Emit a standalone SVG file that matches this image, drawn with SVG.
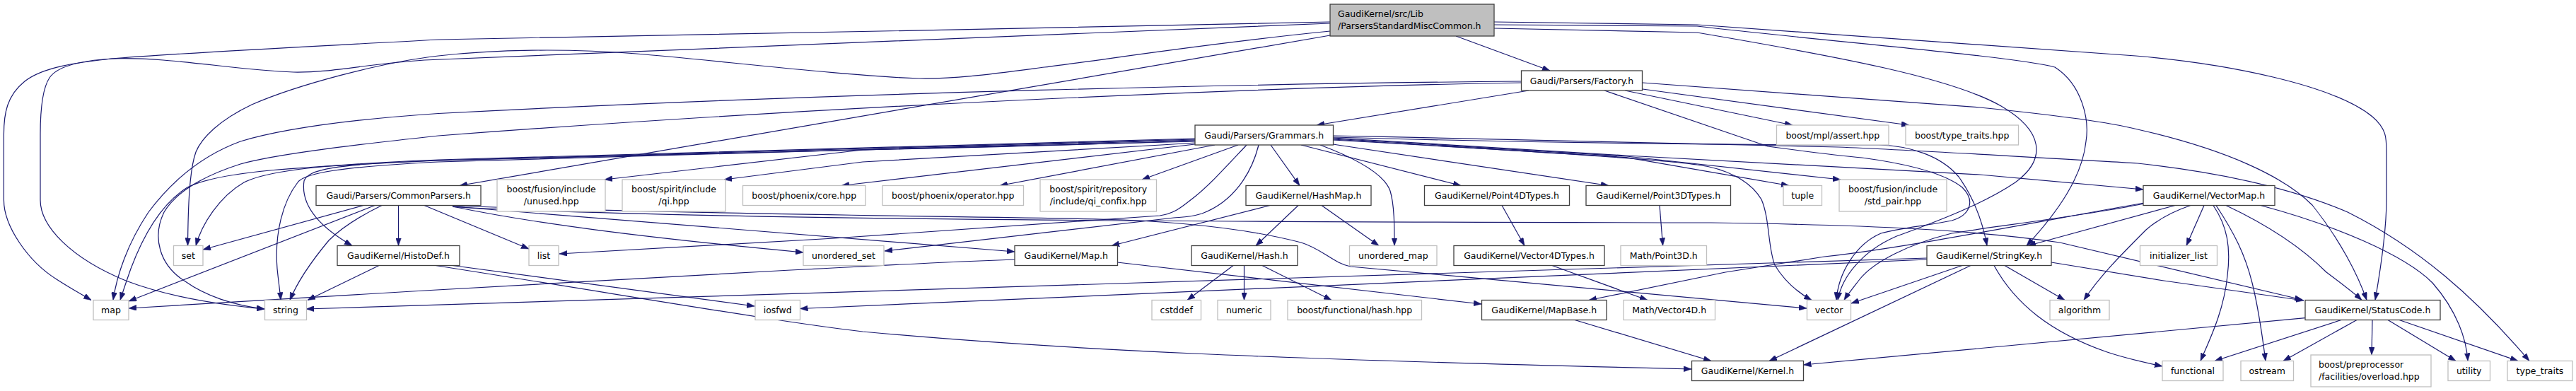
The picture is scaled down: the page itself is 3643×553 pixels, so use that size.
<svg xmlns="http://www.w3.org/2000/svg" width="3643" height="553" viewBox="0 0 3643 553">
<style>
.e{fill:none;stroke:#191970;stroke-width:1.2;marker-end:url(#a)}
.doc rect{fill:#fff;stroke:#404040;stroke-width:1.3}
.ext rect{fill:#fff;stroke:#bfbfbf;stroke-width:1.3}
.root rect{fill:#bfbfbf;stroke:#404040;stroke-width:1.3}
text{font-family:"DejaVu Sans","Liberation Sans",sans-serif;font-size:12.5px;fill:#000}
.c{text-anchor:middle}
</style>
<defs>
<marker id="a" viewBox="0 0 11 8" refX="11" refY="4" markerWidth="11" markerHeight="8" markerUnits="userSpaceOnUse" orient="auto"><path d="M0,0L11,4L0,8z" fill="#191970" stroke="#191970" stroke-width="0.5"/></marker>
</defs>
<rect width="3643" height="553" fill="#fff"/>
<g id="edges">
<path class="e" d="M2059,51L2192,100"/>
<path class="e" d="M1881,50L650,262.5"/>
<path class="e" d="M1881,31C1500,40 900,50 620,56C400,68 250,75 158,83C110,88 60,95 35,115C10,135 5.4,160 5.4,190L5.4,283C5.4,320 40,370 80,395C100,408 115,416 129,424.5"/>
<path class="e" d="M1881,33L600,85C520,90 470,103 415,102C330,99 240,80 158,83C110,86 80,95 70,110C60,125 57,160 57,190L57,283C57,320 100,365 178,397C230,417 300,430 374,437"/>
<path class="e" d="M1881,44C1700,62 1560,85 1477,95C1400,105 1350,112 1300,111C1200,108 1000,84 900,76C800,68 700,70 620,79C540,88 420,120 356,148C310,170 285,195 277,215C268,240 266,290 265.5,347.5"/>
<path class="e" d="M2113,31C2200,33 2300,34 2400,35L3020,79C3150,90 3300,120 3355,165C3375,182 3375,195 3375,215L3375,282C3375,330 3365,390 3359,424.5"/>
<path class="e" d="M2113,35L2400,37C2600,60 2850,80 2906,95C2945,120 2955,170 2950,200C2945,250 2910,300 2866,347.5"/>
<path class="e" d="M2113,40L2400,46C2600,80 2760,110 2830,150C2890,185 2895,225 2850,258C2800,292 2720,320 2680,335C2635,355 2605,390 2599,424.5"/>
<path class="e" d="M2162,128L1862,177"/>
<path class="e" d="M2298,128L2535,177"/>
<path class="e" d="M2323,126L2700,177"/>
<path class="e" d="M2323,117L2800,152C2900,162 2980,172 3023,183C3150,212 3230,250 3270,290C3310,340 3335,390 3347,424.5"/>
<path class="e" d="M2151.5,115C1800,118 1200,130 620,160.5C480,170 390,185 340,200C280,222 240,260 210,300C180,345 165,390 160,424.5"/>
<path class="e" d="M2151.5,117C1800,123 1200,148 620,192C500,205 390,218 340,232C290,248 250,270 232,300C215,335 225,375 262,398C290,418 330,432 374,437"/>
<path class="e" d="M2269,128L2500,207C2560,215 2600,220 2633,223C2700,232 2750,245 2775,265C2795,285 2785,305 2760,312C2720,320 2690,322 2660,330C2625,345 2600,385 2597,424.5"/>
<path class="e" d="M1690,199C1500,206 1300,210 1220,212L855,254"/>
<path class="e" d="M1690,202C1500,214 1300,225 1220,229L1024,254"/>
<path class="e" d="M1690,204L1190,262.5"/>
<path class="e" d="M1718,205L1414,262.5"/>
<path class="e" d="M1751,205L1615,254"/>
<path class="e" d="M1763,205C1730,240 1710,262 1690,278C1672,292 1662,302 1640,305L1180,337L791,359"/>
<path class="e" d="M1780,205C1770,245 1745,285 1700,302C1680,308 1670,307 1660,308L1251,355"/>
<path class="e" d="M1797,205L1838,262.5"/>
<path class="e" d="M1690,196L620,226C470,232 380,240 345,258C310,278 285,318 277,347.5"/>
<path class="e" d="M1690,197L620,227C420,236 310,242 265,265C225,290 200,340 185,380C178,400 173,415 170,424.5"/>
<path class="e" d="M1690,198L620,229C480,236 430,245 421,258C400,285 388,330 392,380C394,400 396,412 397,424.5"/>
<path class="e" d="M1690,200L620,227C470,232 435,240 430,256C425,290 450,320 498,347.5"/>
<path class="e" d="M1840,205L2066,262.5"/>
<path class="e" d="M1885,204L2275,262.5"/>
<path class="e" d="M1867,205C1920,225 1958,247 1966,270C1972,290 1972,320 1972,347.5"/>
<path class="e" d="M1885,192C2100,196 2300,202 2600,208C2700,212 2800,218 3023,231C3150,245 3250,270 3320,300C3420,350 3500,420 3577,510.5"/>
<path class="e" d="M1885,195C2100,208 2250,217 2300,220L2800,247L3031,268"/>
<path class="e" d="M1885,197C2100,210 2250,220 2300,222.7L2530,262.5"/>
<path class="e" d="M1885,196C2100,209 2250,218 2300,221L2603,254"/>
<path class="e" d="M1885,198C2100,210 2350,225 2400,233C2440,238 2475,255 2491,282C2503,310 2500,350 2510,375C2525,400 2545,415 2562,424.5"/>
<path class="e" d="M1885,194C2100,200 2400,205 2657,205C2700,206 2745,220 2770,250C2795,285 2805,320 2810,347.5"/>
<path class="e" d="M1796,290.5L1572,347.5"/>
<path class="e" d="M1836,290.5L1776,347.5"/>
<path class="e" d="M1869,290.5L1950,347.5"/>
<path class="e" d="M514,290.5L287,353"/>
<path class="e" d="M530,290.5L182,426"/>
<path class="e" d="M540,290.5C500,310 480,325 465,340C440,370 420,400 410,424.5"/>
<path class="e" d="M563.5,290.5L563.5,347.5"/>
<path class="e" d="M600,290.5L748,352"/>
<path class="e" d="M640,292C750,315 900,335 1136,357"/>
<path class="e" d="M640,292L1435,356"/>
<path class="e" d="M640,291C1000,304 1400,306 1556,310C1700,314 1790,330 1840,343C1870,352 1885,372 1910,377L2555,436"/>
<path class="e" d="M640,292.5C1000,312 1800,314 2420,315C2650,318 2800,326 2913,343L3256,424"/>
<path class="e" d="M536,375.5L435,424.5"/>
<path class="e" d="M640,375.5L1067,433"/>
<path class="e" d="M616,375.5C900,420 1100,455 1220,469C1500,495 1800,508 2392,522"/>
<path class="e" d="M1435,367C1300,372 1220,377 1100,383L600,411L182,436"/>
<path class="e" d="M1580,371L2095,430"/>
<path class="e" d="M1744,375.5L1679,424.5"/>
<path class="e" d="M1759.5,375.5L1759.5,424.5"/>
<path class="e" d="M1785,375.5L1883,424.5"/>
<path class="e" d="M2124,290.5L2156,347.5"/>
<path class="e" d="M2347,290.5L2351.6,347.5"/>
<path class="e" d="M2195,375.5L2330,424.5"/>
<path class="e" d="M2227,452.5L2420,510.5"/>
<path class="e" d="M2725,365L433,437"/>
<path class="e" d="M2725,367L1131.5,436.5"/>
<path class="e" d="M2775,375.5L2618,429"/>
<path class="e" d="M2787,375.5L2502,510.5"/>
<path class="e" d="M2835,375.5L2920,424.5"/>
<path class="e" d="M2820,375.5C2850,430 2900,470 2980,498C3010,508 3035,513 3058,518"/>
<path class="e" d="M2901,371L3060,397L3258,425"/>
<path class="e" d="M3260,449.7L2550.5,516"/>
<path class="e" d="M3311,452.5L3132,510.5"/>
<path class="e" d="M3333,452.5L3229,510.5"/>
<path class="e" d="M3355,452.5L3354,502"/>
<path class="e" d="M3377,452.5L3473,510.5"/>
<path class="e" d="M3393,452.5L3561,510.5"/>
<path class="e" d="M3117,290.5L3092,347.5"/>
<path class="e" d="M3130,290.5C3150,320 3155,350 3150,390C3145,440 3125,480 3112,510.5"/>
<path class="e" d="M3134,290.5C3160,330 3175,360 3185,400C3195,440 3200,480 3204,510.5"/>
<path class="e" d="M3148,290.5C3200,315 3250,345 3290,385C3310,400 3330,415 3340,424.5"/>
<path class="e" d="M3197,290.5C3300,318 3400,360 3440,400C3475,440 3488,480 3490,510.5"/>
<path class="e" d="M3098,290.5C3070,300 3050,312 3035,325C3000,360 2970,390 2947,424.5"/>
<path class="e" d="M3076,290.5L2868,347.5"/>
<path class="e" d="M3032,288C2950,305 2820,320 2760,330C2700,345 2650,370 2630,395C2620,408 2612,418 2608,424.5"/>
<path class="e" d="M3032,287C2900,310 2700,350 2580,363L2440,385L2247,424.5"/>
</g>
<g id="n0" class="root"><rect x="1881" y="6" width="232" height="45"/><text x="1892" y="24">GaudiKernel/src/Lib</text><text x="1892" y="41">/ParsersStandardMiscCommon.h</text></g>
<g id="n_factory" class="doc"><rect x="2151.5" y="100" width="171" height="28"/><text class="c" x="2237" y="118.5">Gaudi/Parsers/Factory.h</text></g>
<g id="n_grammars" class="doc"><rect x="1690" y="177" width="195.5" height="28"/><text class="c" x="1787.7" y="195.5">Gaudi/Parsers/Grammars.h</text></g>
<g id="n_mplassert" class="ext"><rect x="2512.5" y="177" width="158.5" height="28"/><text class="c" x="2591.8" y="195.5">boost/mpl/assert.hpp</text></g>
<g id="n_boosttypetraits" class="ext"><rect x="2695" y="177" width="159.5" height="28"/><text class="c" x="2774.7" y="195.5">boost/type_traits.hpp</text></g>
<g id="n_commonparsers" class="doc"><rect x="447" y="262.5" width="233" height="28"/><text class="c" x="563.7" y="281">Gaudi/Parsers/CommonParsers.h</text></g>
<g id="n_unused" class="ext"><rect x="703" y="254" width="153" height="45"/><text class="c" x="779.7" y="272">boost/fusion/include</text><text class="c" x="779.7" y="289">/unused.hpp</text></g>
<g id="n_qi" class="ext"><rect x="880" y="254" width="146" height="45"/><text class="c" x="953" y="272">boost/spirit/include</text><text class="c" x="953" y="289">/qi.hpp</text></g>
<g id="n_core" class="ext"><rect x="1050.5" y="262.5" width="173.5" height="28"/><text class="c" x="1137.2" y="281">boost/phoenix/core.hpp</text></g>
<g id="n_operator" class="ext"><rect x="1248" y="262.5" width="199.5" height="28"/><text class="c" x="1347.7" y="281">boost/phoenix/operator.hpp</text></g>
<g id="n_qiconfix" class="ext"><rect x="1471" y="254" width="164.5" height="45"/><text class="c" x="1553.2" y="272">boost/spirit/repository</text><text class="c" x="1553.2" y="289">/include/qi_confix.hpp</text></g>
<g id="n_hashmap" class="doc"><rect x="1762" y="262.5" width="177" height="28"/><text class="c" x="1850.5" y="281">GaudiKernel/HashMap.h</text></g>
<g id="n_point4d" class="doc"><rect x="2014.5" y="262.5" width="205" height="28"/><text class="c" x="2117" y="281">GaudiKernel/Point4DTypes.h</text></g>
<g id="n_point3d" class="doc"><rect x="2243" y="262.5" width="204.5" height="28"/><text class="c" x="2345.2" y="281">GaudiKernel/Point3DTypes.h</text></g>
<g id="n_tuple" class="ext"><rect x="2522" y="262.5" width="54.5" height="28"/><text class="c" x="2549.2" y="281">tuple</text></g>
<g id="n_stdpair" class="ext"><rect x="2601" y="254" width="152" height="45"/><text class="c" x="2677" y="272">boost/fusion/include</text><text class="c" x="2677" y="289">/std_pair.hpp</text></g>
<g id="n_vectormap" class="doc"><rect x="3031" y="262.5" width="186" height="28"/><text class="c" x="3124" y="281">GaudiKernel/VectorMap.h</text></g>
<g id="n_set" class="ext"><rect x="245.5" y="347.5" width="41.5" height="28"/><text class="c" x="266.3" y="366">set</text></g>
<g id="n_histodef" class="doc"><rect x="477" y="347.5" width="173" height="28"/><text class="c" x="563.5" y="366">GaudiKernel/HistoDef.h</text></g>
<g id="n_list" class="ext"><rect x="748" y="347.5" width="42" height="28"/><text class="c" x="769" y="366">list</text></g>
<g id="n_unorderedset" class="ext"><rect x="1136" y="347.5" width="114" height="28"/><text class="c" x="1193" y="366">unordered_set</text></g>
<g id="n_map_h" class="doc"><rect x="1435" y="347.5" width="145.5" height="28"/><text class="c" x="1507.8" y="366">GaudiKernel/Map.h</text></g>
<g id="n_hash_h" class="doc"><rect x="1685" y="347.5" width="150" height="28"/><text class="c" x="1760" y="366">GaudiKernel/Hash.h</text></g>
<g id="n_unorderedmap" class="ext"><rect x="1908.5" y="347.5" width="123.5" height="28"/><text class="c" x="1970.3" y="366">unordered_map</text></g>
<g id="n_vector4d" class="doc"><rect x="2056" y="347.5" width="213" height="28"/><text class="c" x="2162.5" y="366">GaudiKernel/Vector4DTypes.h</text></g>
<g id="n_mathpoint3d" class="ext"><rect x="2292" y="347.5" width="121.5" height="28"/><text class="c" x="2352.8" y="366">Math/Point3D.h</text></g>
<g id="n_stringkey" class="doc"><rect x="2725" y="347.5" width="176" height="28"/><text class="c" x="2813" y="366">GaudiKernel/StringKey.h</text></g>
<g id="n_initlist" class="ext"><rect x="3026.5" y="347.5" width="109" height="28"/><text class="c" x="3081" y="366">initializer_list</text></g>
<g id="n_map" class="ext"><rect x="132" y="424.5" width="50" height="28"/><text class="c" x="157" y="443">map</text></g>
<g id="n_string" class="ext"><rect x="374.5" y="424.5" width="59" height="28"/><text class="c" x="404" y="443">string</text></g>
<g id="n_iosfwd" class="ext"><rect x="1068" y="424.5" width="63.5" height="28"/><text class="c" x="1099.7" y="443">iosfwd</text></g>
<g id="n_cstddef" class="ext"><rect x="1629" y="424.5" width="69.5" height="28"/><text class="c" x="1663.7" y="443">cstddef</text></g>
<g id="n_numeric" class="ext"><rect x="1722" y="424.5" width="75" height="28"/><text class="c" x="1759.5" y="443">numeric</text></g>
<g id="n_hashhpp" class="ext"><rect x="1821" y="424.5" width="189.5" height="28"/><text class="c" x="1915.7" y="443">boost/functional/hash.hpp</text></g>
<g id="n_mapbase" class="doc"><rect x="2095.5" y="424.5" width="176.5" height="28"/><text class="c" x="2183.7" y="443">GaudiKernel/MapBase.h</text></g>
<g id="n_mathvector4d" class="ext"><rect x="2296" y="424.5" width="129.5" height="28"/><text class="c" x="2360.7" y="443">Math/Vector4D.h</text></g>
<g id="n_vector" class="ext"><rect x="2555.5" y="424.5" width="62" height="28"/><text class="c" x="2586.5" y="443">vector</text></g>
<g id="n_algorithm" class="ext"><rect x="2899" y="424.5" width="84" height="28"/><text class="c" x="2941" y="443">algorithm</text></g>
<g id="n_statuscode" class="doc"><rect x="3260" y="424.5" width="191" height="28"/><text class="c" x="3355.5" y="443">GaudiKernel/StatusCode.h</text></g>
<g id="n_kernel" class="doc"><rect x="2392.5" y="510.5" width="158" height="28"/><text class="c" x="2471.5" y="529">GaudiKernel/Kernel.h</text></g>
<g id="n_functional" class="ext"><rect x="3058" y="510.5" width="86" height="28"/><text class="c" x="3101" y="529">functional</text></g>
<g id="n_ostream" class="ext"><rect x="3169" y="510.5" width="74.5" height="28"/><text class="c" x="3206.2" y="529">ostream</text></g>
<g id="n_overload" class="ext"><rect x="3268" y="502" width="170" height="45"/><text x="3279" y="520">boost/preprocessor</text><text x="3279" y="537">/facilities/overload.hpp</text></g>
<g id="n_utility" class="ext"><rect x="3462" y="510.5" width="59.5" height="28"/><text class="c" x="3491.7" y="529">utility</text></g>
<g id="n_typetraits" class="ext"><rect x="3546" y="510.5" width="92" height="28"/><text class="c" x="3592" y="529">type_traits</text></g>
</svg>
